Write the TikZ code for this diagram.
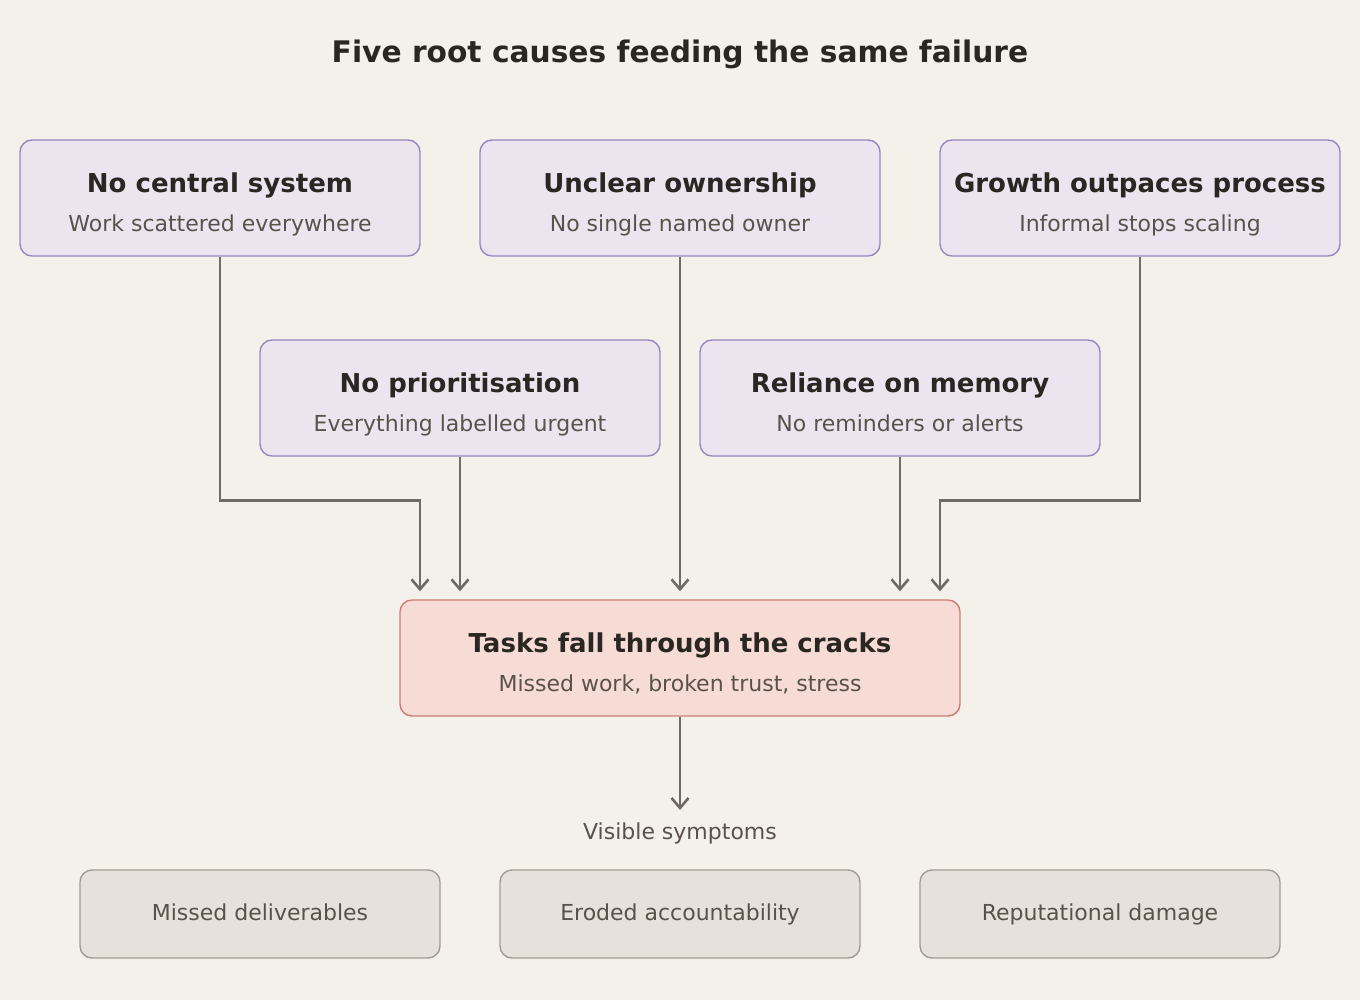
\documentclass[tikz,border=0pt]{standalone}
\usepackage{fontspec}
\setmainfont{DejaVu Sans}
\usetikzlibrary{arrows.meta,calc}
\definecolor{bgc}{HTML}{F4F0EA}
\definecolor{purfill}{HTML}{ECE5F0}
\definecolor{purdraw}{HTML}{9A87C2}
\definecolor{redfill}{HTML}{F6DCD5}
\definecolor{reddraw}{HTML}{CC7D72}
\definecolor{grayfill}{HTML}{E6E1DA}
\definecolor{graydraw}{HTML}{A39C92}
\definecolor{darktxt}{HTML}{2A2622}
\definecolor{subtxt}{HTML}{5A524A}
\definecolor{linec}{HTML}{6F6B64}
\tikzset{
  causebox/.style={draw=purdraw, fill=purfill, line width=1.4pt, rounded corners=12pt, minimum width=400pt, minimum height=116pt, inner sep=0pt},
  failbox/.style={draw=reddraw, fill=redfill, line width=1.4pt, rounded corners=12pt, minimum width=560pt, minimum height=116pt, inner sep=0pt},
  symbox/.style={draw=graydraw, fill=grayfill, line width=1.4pt, rounded corners=12pt, minimum width=360pt, minimum height=88pt, inner sep=0pt, text height=17pt, text depth=4pt, font=\fontsize{22pt}{26pt}\selectfont, text=subtxt},
  ttl/.style={anchor=base, inner sep=0pt, font=\fontsize{26pt}{30pt}\selectfont\bfseries, text=darktxt},
  sub/.style={anchor=base, inner sep=0pt, font=\fontsize{22pt}{26pt}\selectfont, text=subtxt},
  conn/.style={draw=linec, line width=2.6pt, -{Straight Barb[length=10pt,width=17pt,line width=2.6pt]}, shorten >=8pt}
}
\begin{document}
\begin{tikzpicture}[x=1pt,y=-1pt]
\fill[bgc] (0,0) rectangle (1360,1000);
\useasboundingbox (0,0) rectangle (1360,1000);

\node[anchor=base, inner sep=0pt, font=\fontsize{29.7pt}{34pt}\selectfont\bfseries, text=darktxt] (title) at (680,63) {Five root causes feeding the same failure};

% cause boxes
\node[causebox] (c1) at (220,198) {};
\node[causebox] (c2) at (680,198) {};
\node[causebox] (c3) at (1140,198) {};
\node[causebox] (c4) at (460,398) {};
\node[causebox] (c5) at (900,398) {};
\node[failbox] (f) at (680,658) {};

\node[ttl] (c1t) at ($(c1.north)+(0,53)$) {No central system};
\node[sub] (c1s) at ($(c1.north)+(0,92)$) {Work scattered everywhere};
\node[ttl] (c2t) at ($(c2.north)+(0,53)$) {Unclear ownership};
\node[sub] (c2s) at ($(c2.north)+(0,92)$) {No single named owner};
\node[ttl] (c3t) at ($(c3.north)+(0,53)$) {Growth outpaces process};
\node[sub] (c3s) at ($(c3.north)+(0,92)$) {Informal stops scaling};
\node[ttl] (c4t) at ($(c4.north)+(0,53)$) {No prioritisation};
\node[sub] (c4s) at ($(c4.north)+(0,92)$) {Everything labelled urgent};
\node[ttl] (c5t) at ($(c5.north)+(0,53)$) {Reliance on memory};
\node[sub] (c5s) at ($(c5.north)+(0,92)$) {No reminders or alerts};
\node[ttl] (ft) at ($(f.north)+(0,53)$) {Tasks fall through the cracks};
\node[sub] (fs) at ($(f.north)+(0,92)$) {Missed work, broken trust, stress};

\node[sub] (vis) at (680,839) {Visible symptoms};

\node[symbox] (s1) at (260,914) {Missed deliverables};
\node[symbox] (s2) at (680,914) {Eroded accountability};
\node[symbox] (s3) at (1100,914) {Reputational damage};

% connectors
\draw[conn] (c1.south) -- ($(c1.south)+(0,244)$) -| ([xshift=-260pt]f.north);
\draw[conn] (c4.south) -- ([xshift=-220pt]f.north);
\draw[conn] (c2.south) -- (f.north);
\draw[conn] (c5.south) -- ([xshift=220pt]f.north);
\draw[conn] (c3.south) -- ($(c3.south)+(0,244)$) -| ([xshift=260pt]f.north);
\draw[conn, shorten >=0pt] (f.south) -- ($(vis.base)+(0,-29)$);
\end{tikzpicture}
\end{document}
